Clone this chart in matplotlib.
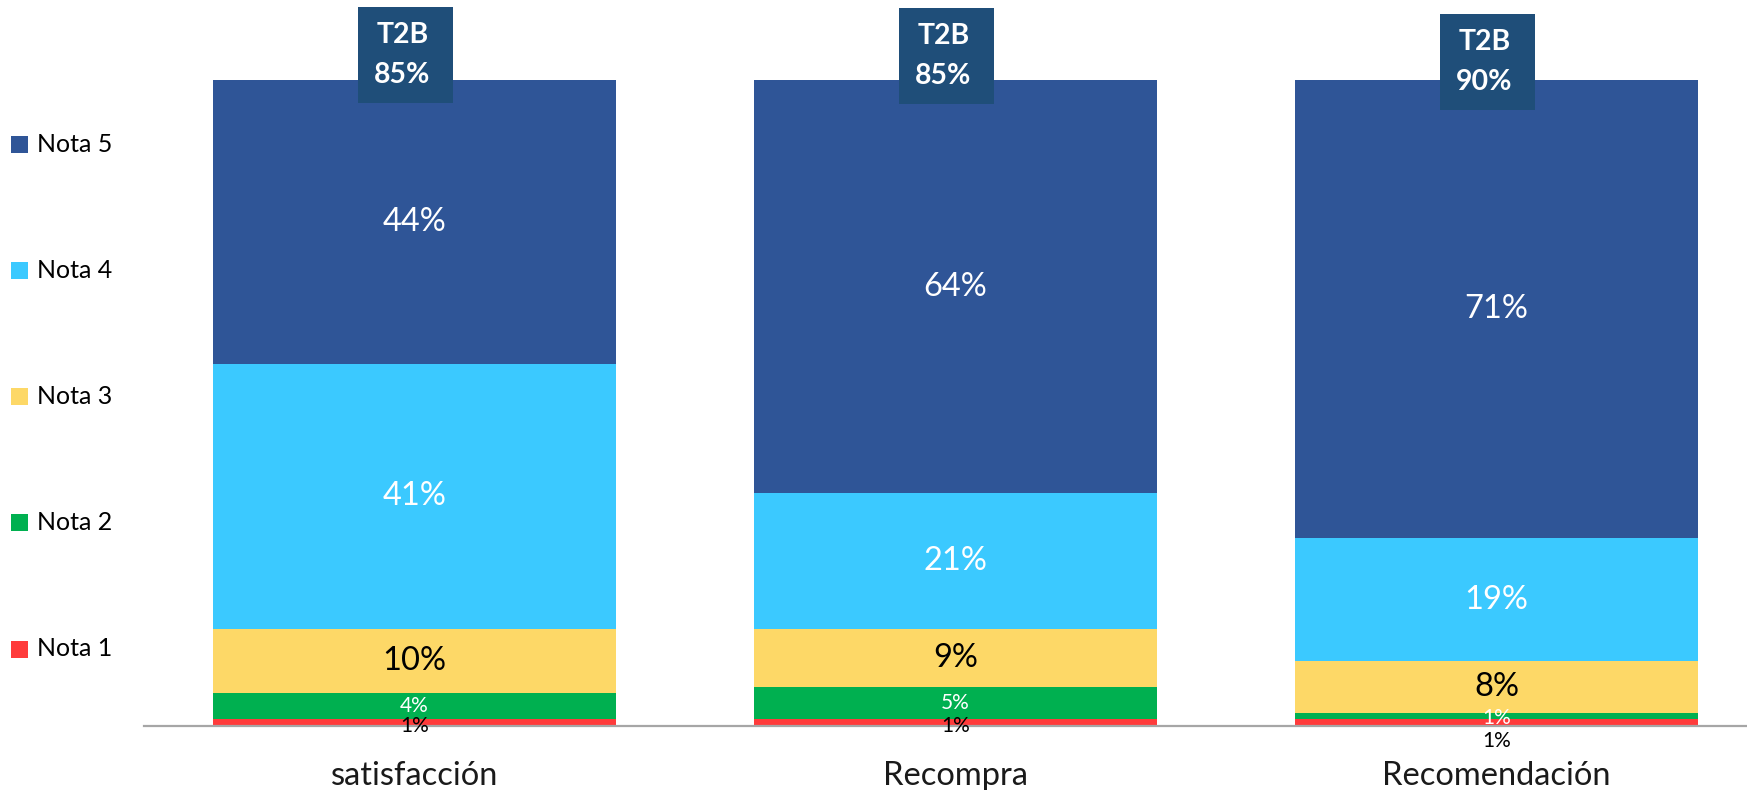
import matplotlib
matplotlib.use("Agg")
import matplotlib.pyplot as plt
from matplotlib.patches import Rectangle
import numpy as np

plt.rcParams['font.family'] = ['Lato', 'DejaVu Sans']

categories = ["satisfacción", "Recompra", "Recomendación"]
series_names = ["Nota 1", "Nota 2", "Nota 3", "Nota 4", "Nota 5"]
nota1 = [1, 1, 1]
nota2 = [4, 5, 1]
nota3 = [10, 9, 8]
nota4 = [41, 21, 19]
nota5 = [44, 64, 71]
t2b = [85, 85, 90]

colors = ["#FF3B3B", "#00B050", "#FDD867", "#3BC9FF", "#2F5597"]
label_colors = ["black", "white", "black", "white", "white"]
label_sizes = [15, 15, 23.5, 23.5, 23.5]
box_color = "#1F4E79"

W, H = 1747, 790
fig = plt.figure(figsize=(W / 100, H / 100), dpi=100)
base_px = 725.5
ax = fig.add_axes([144 / W, (H - base_px) / H, 1 - 144 / W, base_px / H])
px_per_unit = (base_px - 80) / 100.0
ax.set_ylim(0, base_px / px_per_unit)
ax.set_xlim(-0.5, -0.5 + (W - 144) / 541.0)

x = np.arange(len(categories))
data = [nota1, nota2, nota3, nota4, nota5]
bottom = np.zeros(len(categories))
bar_w = 403 / 541.0
for i, vals in enumerate(data):
    vals = np.array(vals, dtype=float)
    ax.bar(x, vals, width=bar_w, bottom=bottom, color=colors[i], edgecolor='none', zorder=2)
    for j in range(len(categories)):
        yc = bottom[j] + vals[j] / 2
        if i == 0:
            yc = 0.0 if j < 2 else -2.4
        if i == 1 and vals[j] < 2:
            yc = bottom[j] + 0.1
        ax.text(x[j], yc, f"{int(vals[j])}%", ha='center', va='center',
                color=label_colors[i], fontsize=label_sizes[i],
                zorder=4, clip_on=False)
    bottom += vals

# T2B boxes
box_w = 95 / 541.0
box_h = 96 / px_per_unit
box_bottoms = [(base_px - 103) / px_per_unit, (base_px - 104) / px_per_unit, (base_px - 110) / px_per_unit]
for j in range(len(categories)):
    cx = x[j] - 9 / 541.0
    b = box_bottoms[j]
    ax.add_patch(Rectangle((cx - box_w / 2, b), box_w, box_h, facecolor=box_color,
                           edgecolor='none', zorder=5, clip_on=False))
    mid = b + box_h / 2
    off = 20 / px_per_unit
    ax.text(cx - 3 / 541.0, mid + off, "T2B", ha='center', va='center', color='white',
            fontsize=20.5, fontweight='bold', zorder=6)
    ax.text(cx - 3 / 541.0, mid - off, f"{t2b[j]}%", ha='center', va='center', color='white',
            fontsize=20.5, fontweight='bold', zorder=6)

# Category labels
for j, c in enumerate(categories):
    ax.text(x[j], -(785 - base_px) / px_per_unit, c, ha='center', va='baseline',
            fontsize=23.5, color='#1a1a1a', clip_on=False)

for s in ['top', 'right', 'left']:
    ax.spines[s].set_visible(False)
ax.spines['bottom'].set_color('#A6A6A6')
ax.spines['bottom'].set_linewidth(1.6)
ax.spines['bottom'].set_zorder(3)
ax.set_xticks([])
ax.set_yticks([])
ax.patch.set_visible(False)

# Legend (top to bottom: Nota 5 .. Nota 1)
leg_y = [144, 270, 396, 522, 649]
for k, idx in enumerate(range(4, -1, -1)):
    yc = leg_y[k]
    fig.add_artist(Rectangle((11 / W, (H - yc - 8.5) / H), 17 / W, 17 / H,
                             transform=fig.transFigure, facecolor=colors[idx], edgecolor='none'))
    fig.text(37 / W, (H - yc) / H, series_names[idx], ha='left', va='center',
             fontsize=18, color='black')

fig.savefig("out.png", dpi=100)
